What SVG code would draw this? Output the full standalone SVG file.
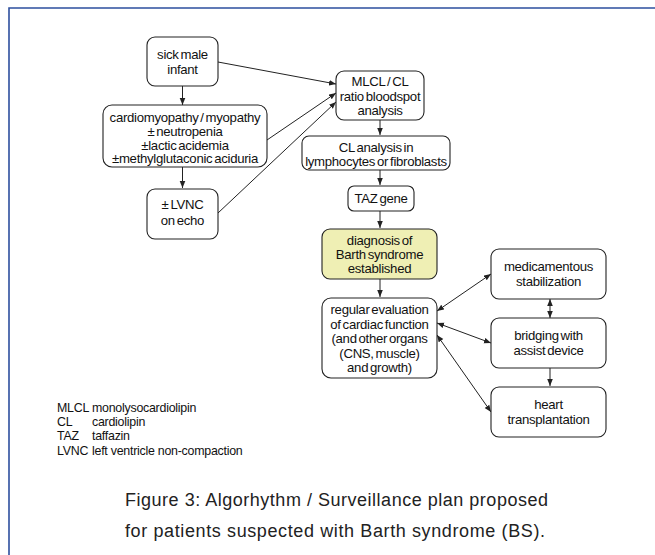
<svg xmlns="http://www.w3.org/2000/svg" width="655" height="555" viewBox="0 0 655 555">
<style>
.box{fill:#fff;stroke:#222;stroke-width:1.1}
.hl{fill:#efefb4}
.t{font-family:"Liberation Sans",Arial,sans-serif;font-size:13.2px;fill:#111;text-anchor:middle;letter-spacing:-0.3px;word-spacing:-1.5px}
.lg{font-family:"Liberation Sans",Arial,sans-serif;font-size:12.4px;fill:#111;letter-spacing:-0.25px}
.cap{font-family:"Liberation Sans",Arial,sans-serif;font-size:18px;fill:#222}
.c{stroke:#222;stroke-width:1;fill:none}
</style>
<defs>
<marker id="ah" viewBox="0 0 10 10" refX="10" refY="5" markerWidth="7" markerHeight="7" markerUnits="userSpaceOnUse" orient="auto-start-reverse">
<path d="M0,1 L10,5 L0,9 z" fill="#222"/>
</marker>
</defs>
<rect width="655" height="555" fill="#fff"/>
<path d="M9,555 V8 H655" fill="none" stroke="#2d4f9e" stroke-width="1.6"/>

<g id="connectors">
<line class="c" x1="182.5" y1="86" x2="182.5" y2="105" marker-end="url(#ah)"/>
<line class="c" x1="182.5" y1="167" x2="182.5" y2="188" marker-end="url(#ah)"/>
<line class="c" x1="218" y1="62" x2="336" y2="84" marker-end="url(#ah)"/>
<line class="c" x1="267" y1="140" x2="336" y2="93" marker-end="url(#ah)"/>
<line class="c" x1="218" y1="213" x2="336" y2="102" marker-end="url(#ah)"/>
<line class="c" x1="380" y1="120" x2="380" y2="135" marker-end="url(#ah)"/>
<line class="c" x1="380" y1="170" x2="380" y2="185" marker-end="url(#ah)"/>
<line class="c" x1="380" y1="211" x2="380" y2="228" marker-end="url(#ah)"/>
<line class="c" x1="380" y1="279" x2="380" y2="297" marker-end="url(#ah)"/>
<line class="c" x1="437" y1="311" x2="491" y2="274" marker-start="url(#ah)" marker-end="url(#ah)"/>
<line class="c" x1="437" y1="323" x2="491" y2="343" marker-start="url(#ah)" marker-end="url(#ah)"/>
<line class="c" x1="437" y1="335" x2="491" y2="412" marker-start="url(#ah)" marker-end="url(#ah)"/>
<line class="c" x1="550" y1="299" x2="550" y2="318" marker-start="url(#ah)" marker-end="url(#ah)"/>
<line class="c" x1="550" y1="368" x2="550" y2="386" marker-end="url(#ah)"/>
</g>

<g id="n-sick">
<rect class="box" x="147" y="37" width="71" height="49" rx="8"/>
<text class="t" x="182.5" y="58.5">sick male</text>
<text class="t" x="182.5" y="73.5">infant</text>
</g>
<g id="n-cardio">
<rect class="box" x="103" y="105" width="164" height="62" rx="9"/>
<text class="t" x="185" y="121.5">cardiomyopathy / myopathy</text>
<text class="t" x="185" y="135.5">± neutropenia</text>
<text class="t" x="185" y="149.5">±lactic acidemia</text>
<text class="t" x="185" y="163">±methylglutaconic aciduria</text>
</g>
<g id="n-lvnc">
<rect class="box" x="147" y="189" width="71" height="50" rx="8"/>
<text class="t" x="182.5" y="208.5">± LVNC</text>
<text class="t" x="182.5" y="225">on echo</text>
</g>
<g id="n-mlcl">
<rect class="box" x="336" y="71" width="88" height="49" rx="8"/>
<text class="t" x="380" y="86">MLCL / CL</text>
<text class="t" x="380" y="101">ratio bloodspot</text>
<text class="t" x="380" y="115">analysis</text>
</g>
<g id="n-cl">
<rect class="box" x="302" y="136" width="148" height="34" rx="7"/>
<text class="t" x="376" y="151.5">CL analysis in</text>
<text class="t" x="376" y="165.5">lymphocytes or fibroblasts</text>
</g>
<g id="n-taz">
<rect class="box" x="348" y="186" width="66" height="25" rx="6"/>
<text class="t" x="381" y="203">TAZ gene</text>
</g>
<g id="n-diag">
<rect class="box hl" x="322" y="229" width="115" height="50" rx="8"/>
<text class="t" x="379.5" y="244.5">diagnosis of</text>
<text class="t" x="379.5" y="259">Barth syndrome</text>
<text class="t" x="379.5" y="273">established</text>
</g>
<g id="n-eval">
<rect class="box" x="322" y="298" width="115" height="80" rx="9"/>
<text class="t" x="379.5" y="313.5">regular evaluation</text>
<text class="t" x="379.5" y="328.5">of cardiac function</text>
<text class="t" x="379.5" y="342.5">(and other organs</text>
<text class="t" x="379.5" y="357.5">(CNS, muscle)</text>
<text class="t" x="379.5" y="371.5">and growth)</text>
</g>
<g id="n-med">
<rect class="box" x="491" y="249" width="115" height="50" rx="8"/>
<text class="t" x="548.5" y="271">medicamentous</text>
<text class="t" x="548.5" y="286">stabilization</text>
</g>
<g id="n-bridge">
<rect class="box" x="491" y="318" width="115" height="50" rx="8"/>
<text class="t" x="548.5" y="340">bridging with</text>
<text class="t" x="548.5" y="354.5">assist device</text>
</g>
<g id="n-heart">
<rect class="box" x="491" y="387" width="115" height="50" rx="8"/>
<text class="t" x="548.5" y="408.5">heart</text>
<text class="t" x="548.5" y="424">transplantation</text>
</g>

<g id="legend">
<text class="lg" x="57" y="412">MLCL</text><text class="lg" x="92" y="412">monolysocardiolipin</text>
<text class="lg" x="57" y="426">CL</text><text class="lg" x="92" y="426">cardiolipin</text>
<text class="lg" x="57" y="440">TAZ</text><text class="lg" x="92" y="440">taffazin</text>
<text class="lg" x="57" y="455">LVNC</text><text class="lg" x="92" y="455">left ventricle non-compaction</text>
</g>

<g id="caption">
<text class="cap" x="125" y="505.5" textLength="423" lengthAdjust="spacing">Figure 3: Algorhythm / Surveillance plan proposed</text>
<text class="cap" x="125" y="536.5" textLength="420" lengthAdjust="spacing">for patients suspected with Barth syndrome (BS).</text>
</g>
</svg>
